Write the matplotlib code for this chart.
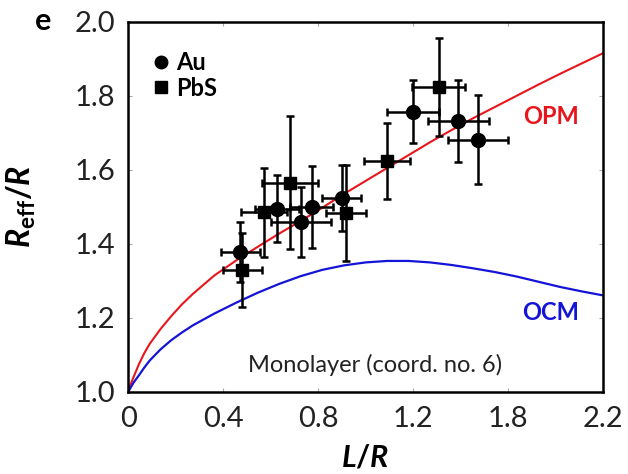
import matplotlib
matplotlib.use('Agg')
import matplotlib.pyplot as plt

plt.rcParams['font.family'] = ['Lato', 'DejaVu Sans']
plt.rcParams['mathtext.fontset'] = 'custom'
plt.rcParams['mathtext.rm'] = 'Lato:bold'
plt.rcParams['mathtext.it'] = 'Lato:italic:bold'
plt.rcParams['mathtext.bf'] = 'Lato:bold'

# model curves
curve_x = [0, 0.01, 0.025, 0.05, 0.075, 0.1, 0.15, 0.2, 0.25, 0.3, 0.4, 0.5, 0.6, 0.7, 0.8,
           0.9, 1.0, 1.1, 1.2, 1.3, 1.4, 1.5, 1.6, 1.7, 1.8, 1.9, 2.0, 2.1, 2.2]
opm_y = [1.0, 1.018, 1.04, 1.075, 1.105, 1.13, 1.17, 1.205, 1.237, 1.265, 1.315, 1.355,
         1.392, 1.428, 1.462, 1.498, 1.535, 1.57, 1.605, 1.64, 1.675, 1.708, 1.74, 1.77,
         1.80, 1.83, 1.859, 1.887, 1.915]
ocm_y = [1.0, 1.01, 1.025, 1.045, 1.066, 1.085, 1.115, 1.14, 1.161, 1.18, 1.212, 1.241,
         1.268, 1.292, 1.313, 1.33, 1.342, 1.35, 1.354, 1.354, 1.35, 1.343, 1.334, 1.324,
         1.312, 1.298, 1.284, 1.272, 1.261]

# measurements
au_x = [0.52, 0.69, 0.80, 0.85, 0.99, 1.32, 1.53, 1.62]
au_y = [1.378, 1.495, 1.46, 1.50, 1.524, 1.757, 1.732, 1.681]
au_xerr = [0.09, 0.10, 0.14, 0.10, 0.09, 0.12, 0.14, 0.14]
au_yerr = [0.08, 0.09, 0.095, 0.11, 0.09, 0.085, 0.11, 0.12]

pbs_x = [0.53, 0.63, 0.75, 1.01, 1.20, 1.44]
pbs_y = [1.33, 1.486, 1.565, 1.484, 1.624, 1.824]
pbs_xerr = [0.09, 0.107, 0.13, 0.093, 0.107, 0.123]
pbs_yerr = [0.10, 0.12, 0.18, 0.13, 0.103, 0.132]

xtick_pos = [0, 0.44, 0.88, 1.32, 1.76, 2.2]
xtick_labels = ['0', '0.4', '0.8', '1.2', '1.8', '2.2']
ytick_pos = [1.0, 1.2, 1.4, 1.6, 1.8, 2.0]
ytick_labels = ['1.0', '1.2', '1.4', '1.6', '1.8', '2.0']

red = '#e8161c'
blue = '#1414d8'

fig = plt.figure(figsize=(6.28, 4.74), dpi=100)
ax = fig.add_axes([0.204, 0.173, 0.756, 0.781])

ax.plot(curve_x, opm_y, color=red, lw=1.5, zorder=2)
ax.plot(curve_x, ocm_y, color=blue, lw=1.6, zorder=2)

ax.errorbar(au_x, au_y, xerr=au_xerr, yerr=au_yerr, fmt='o', color='black',
            ms=10, elinewidth=1.8, capsize=3, capthick=1.8, zorder=3)
ax.errorbar(pbs_x, pbs_y, xerr=pbs_xerr, yerr=pbs_yerr, fmt='s', color='black',
            ms=9, elinewidth=1.8, capsize=3, capthick=1.8, zorder=3)

ax.set_xlim(0, 2.2)
ax.set_ylim(1.0, 2.0)
ax.set_xticks(xtick_pos)
ax.set_xticklabels(xtick_labels)
ax.set_yticks(ytick_pos)
ax.set_yticklabels(ytick_labels)
ax.tick_params(direction='in', length=3, width=0.8, color='#aaaaaa',
               labelsize=21, labelcolor='#222222', top=True, right=True)
ax.tick_params(axis='x', pad=10)
ax.tick_params(axis='y', pad=9)
for sp in ax.spines.values():
    sp.set_linewidth(1.8)

ax.set_xlabel(r'$L/R$', fontsize=22)
ax.set_ylabel(r'$R_{\mathbf{eff}}/R$', fontsize=23)
ax.xaxis.set_label_coords(0.5, -0.14)
ax.yaxis.set_label_coords(-0.19, 0.5)

ax.text(0.89, 0.745, 'OPM', color=red, fontsize=17, fontweight='bold',
        ha='center', va='center', transform=ax.transAxes)
ax.text(0.89, 0.216, 'OCM', color=blue, fontsize=17, fontweight='bold',
        ha='center', va='center', transform=ax.transAxes)
ax.text(0.52, 0.073, 'Monolayer (coord. no. 6)', color='#222222', fontsize=17,
        ha='center', va='center', transform=ax.transAxes)

h1, = ax.plot([], [], 'o', color='black', ms=9, label='Au')
h2, = ax.plot([], [], 's', color='black', ms=8, label='PbS')
ax.legend(handles=[h1, h2], loc='upper left', frameon=False,
          prop={'weight': 'bold', 'size': 17}, handlelength=0.6,
          handletextpad=0.35, labelspacing=0.1, borderaxespad=0.3,
          bbox_to_anchor=(0.02, 0.965))

fig.text(0.068, 0.955, 'e', fontsize=22, fontweight='bold', ha='center', va='center')

fig.savefig('out.png', dpi=100)
